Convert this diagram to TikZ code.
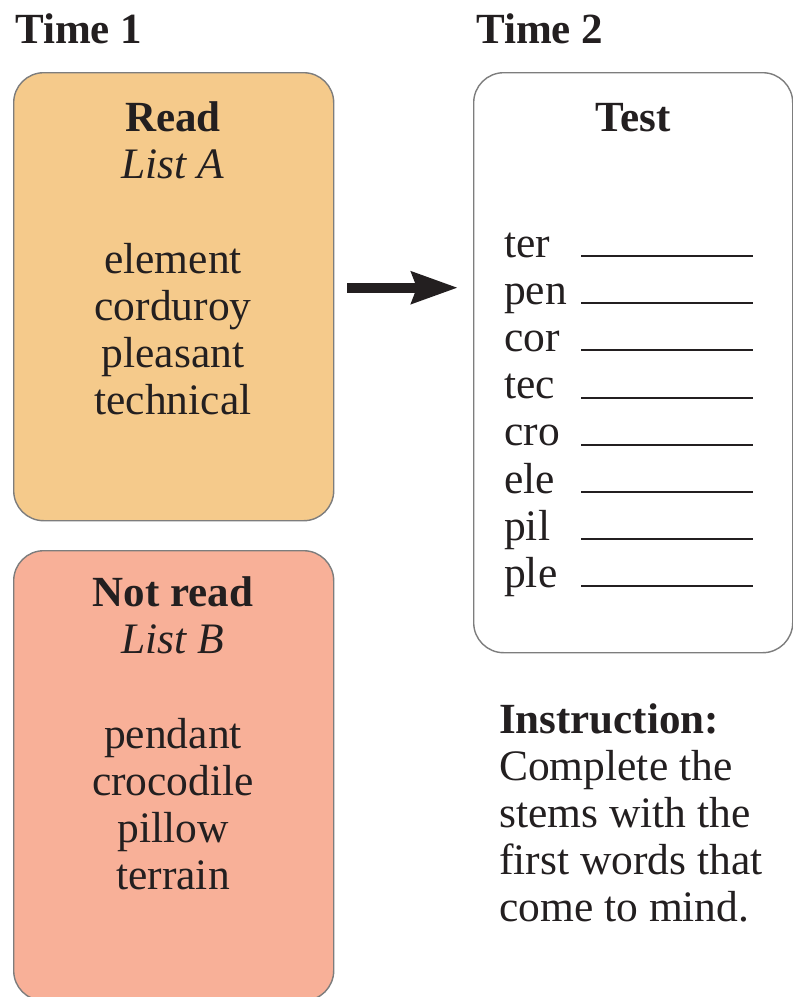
\documentclass[tikz,border=0pt]{standalone}
\usepackage{fontspec}
\setmainfont{Liberation Serif}
\usepackage{tikz}
\usetikzlibrary{positioning}
\usetikzlibrary{arrows.meta}

\definecolor{readfill}{RGB}{245,202,139}
\definecolor{notreadfill}{RGB}{248,176,152}
\definecolor{ink}{RGB}{35,31,32}
\definecolor{cardedge}{RGB}{125,125,125}

\tikzset{
  card/.style={draw=cardedge, line width=1.4pt, rounded corners=30pt,
    minimum width=320pt, inner sep=0pt, anchor=north west},
  word/.style={text=ink, inner sep=0pt, font=\fontsize{43.5}{47}\selectfont},
  heading/.style={text=ink, inner sep=0pt, font=\fontsize{43}{47}\selectfont\bfseries},
  listname/.style={word, font=\fontsize{43.5}{47}\selectfont\itshape},
  blank/.style={draw=ink, line width=2pt},
  bigarrow/.style={draw=ink, line width=10pt,
    -{Stealth[length=46pt, width=31pt, inset=5pt]}}
}

\begin{document}
\begin{tikzpicture}[x=1pt, y=-1pt]
  \useasboundingbox (0,0) rectangle (793,997);

  % the two times
  \node (time1) [heading, anchor=base west] at (15,43) {Time 1};
  \node (time2) [heading, anchor=base west] at (476,43) {Time 2};

  % study cards
  \node (readbox) [card, fill=readfill, minimum height=448pt] at (13,72) {};
  \node (notreadbox) [card, fill=notreadfill, minimum height=450pt] at (13,550) {};

  \node (readhead) [heading, anchor=base] at (173,131) {Read};
  \node (listA) [listname, anchor=base] at (173,178) {List A};
  \foreach \w [count=\i] in {element, corduroy, pleasant, technical}
    \node (a\i) [word, anchor=base] at (173,{273+47*(\i-1)}) {\w};

  \node (notreadhead) [heading, anchor=base] at (173,606) {Not read};
  \node (listB) [listname, anchor=base] at (173,653) {List B};
  \foreach \w [count=\i] in {pendant, crocodile, pillow, terrain}
    \node (b\i) [word, anchor=base] at (173,{748+47.3*(\i-1)}) {\w};

  % test card
  \node (testbox) [card, fill=white, minimum width=319pt, minimum height=580pt] at (473,72) {};
  \node (testhead) [heading, anchor=base] at (633,131) {Test};
  \foreach \s [count=\i] in {ter, pen, cor, tec, cro, ele, pil, ple} {
    \node (stem\i) [word, anchor=base west] at (504,{257+47.2*(\i-1)}) {\s};
    \draw[blank] (581,{256+47.2*(\i-1)}) -- (753,{256+47.2*(\i-1)});
  }

  \draw[bigarrow, shorten <=13pt, shorten >=15pt]
    ([yshift=9pt]readbox.east) -- ([yshift=9pt]readbox.east -| testbox.west);

  % instruction below the test
  \node (instr) [heading, anchor=base west] at (499,733) {Instruction:};
  \foreach \l [count=\i] in {Complete the, stems with the, first words that, come to mind.}
    \node (instr\i) [word, anchor=base west] at (499,{733+47.2*\i}) {\l};
\end{tikzpicture}
\end{document}
